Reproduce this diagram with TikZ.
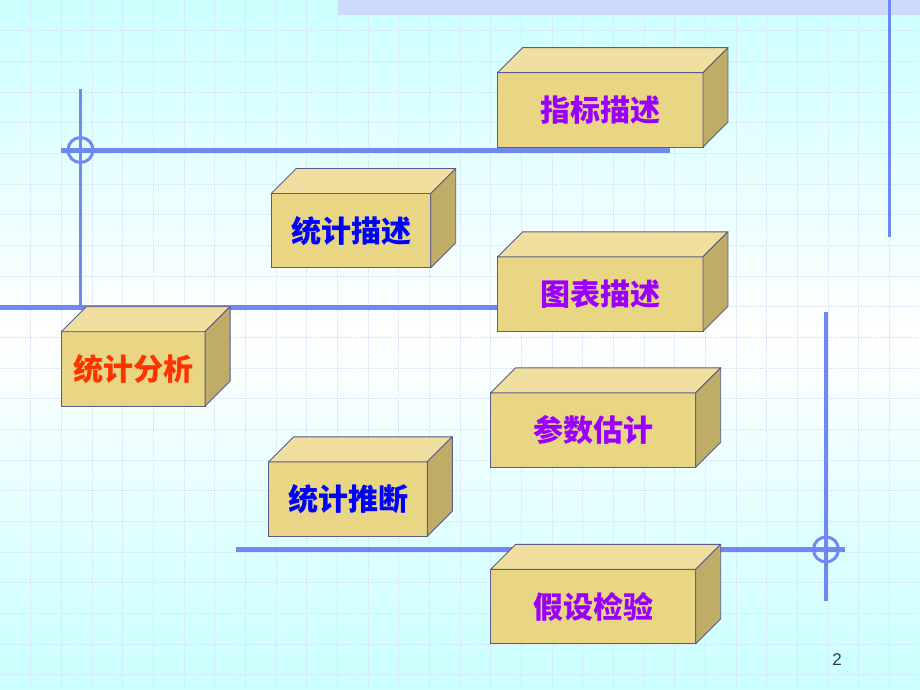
\documentclass[tikz,border=0pt]{standalone}
\usepackage{fontspec}
\newfontfamily\cjk{Noto Sans CJK SC}
\newfontfamily\numfont{Liberation Sans}
\definecolor{bgcyan}{RGB}{204,255,255}
\definecolor{gridc}{RGB}{218,224,250}
\definecolor{bandc}{RGB}{206,218,252}
\definecolor{lineblue}{RGB}{112,136,242}
\definecolor{frontc}{RGB}{233,214,132}
\definecolor{topc}{RGB}{240,223,158}
\definecolor{sidec}{RGB}{191,172,102}
\definecolor{edgec}{RGB}{90,90,140}
\definecolor{purp}{RGB}{153,0,255}
\definecolor{bluet}{RGB}{0,0,255}
\definecolor{redt}{RGB}{255,51,0}
\definecolor{numc}{RGB}{51,51,102}
\tikzset{
  boxface/.style={draw=edgec, line width=0.9pt, fill=frontc, rectangle, inner sep=0pt, outer sep=0pt,
    minimum height=74.4pt, font=\cjk\bfseries\fontsize{30}{30}\selectfont},
  hline/.style={draw=lineblue, line width=5pt},
  vline/.style={draw=lineblue, line width=3.6pt},
  ring/.style={draw=lineblue, line width=3pt},
  gridline/.style={draw=gridc, line width=0.5pt, dash pattern=on 1.5pt off 1pt},
}
\newcommand\cubebox[6]{%
  \node[boxface, minimum width=#4pt, text=#6] (#1) at (#2,#3) {\raisebox{-2pt}{#5}};
  \filldraw[fill=topc, draw=edgec, line width=0.9pt, line join=round]
    (#1.north west) -- ([shift={(25,-25)}]#1.north west) -- ([shift={(25,-25)}]#1.north east) -- (#1.north east) -- cycle;
  \filldraw[fill=sidec, draw=edgec, line width=0.9pt, line join=round]
    (#1.north east) -- ([shift={(25,-25)}]#1.north east) -- ([shift={(25,-25)}]#1.south east) -- (#1.south east) -- cycle;
}
\begin{document}
\begin{tikzpicture}[x=1pt,y=-1pt]
\useasboundingbox (0,0) rectangle (920,690);
% background gradient: cyan at top and bottom, white in the middle
\foreach \i in {0,...,137} {
  \pgfmathsetmacro\yy{\i*5}
  \pgfmathsetmacro\pp{min(100,abs(\yy+2.5-335)/335*100)}
  \fill[bgcyan!\pp!white] (0,\yy) rectangle (920,\yy+5.6);
}
% grid
\foreach \k in {1,...,29} { \draw[gridline] (\k*30.667,0) -- (\k*30.667,690); }
\foreach \k in {1,...,22} { \draw[gridline] (0,\k*30.667) -- (920,\k*30.667); }
% top band
\fill[bandc] (338,0) rectangle (920,15);
% decorative lines
\coordinate (v1a) at (80.5,89);   \coordinate (v1b) at (80.5,307);
\coordinate (h1a) at (61,150);    \coordinate (h1b) at (670,150);
\coordinate (h2a) at (0,307);     \coordinate (h2b) at (600,307);
\coordinate (v2a) at (889.5,0);   \coordinate (v2b) at (889.5,237);
\coordinate (v3a) at (826,312);   \coordinate (v3b) at (826,601);
\coordinate (h3a) at (236,549.5); \coordinate (h3b) at (845,549.5);
\coordinate (c1) at (80.5,150);   \coordinate (c2) at (826,549.5);
\draw[vline] (v1a) -- (v1b);
\draw[hline] (h1a) -- (h1b);
\draw[hline] (h2a) -- (h2b);
\draw[vline] (v2a) -- (v2b);
\draw[vline] (v3a) -- (v3b);
\draw[hline] (h3a) -- (h3b);
\draw[ring] (c1) circle[radius=12.5pt];
\draw[ring] (c2) circle[radius=12.5pt];
% boxes
\cubebox{zb}{600.3}{109.9}{205.3}{指标描述}{purp}
\cubebox{tjms}{351}{230.7}{159.4}{统计描述}{bluet}
\cubebox{tb}{600.3}{294}{205.3}{图表描述}{purp}
\cubebox{tjfx}{133.2}{368.9}{143.7}{统计分析}{redt}
\cubebox{tjtd}{348}{499}{158.6}{统计推断}{bluet}
\cubebox{cs}{593.2}{430}{205}{参数估计}{purp}
\cubebox{js}{593.2}{606.5}{205}{假设检验}{purp}
% page number
\node[text=numc, font=\numfont\fontsize{17}{17}\selectfont] (pg) at (837,660) {2};
\end{tikzpicture}
\end{document}
